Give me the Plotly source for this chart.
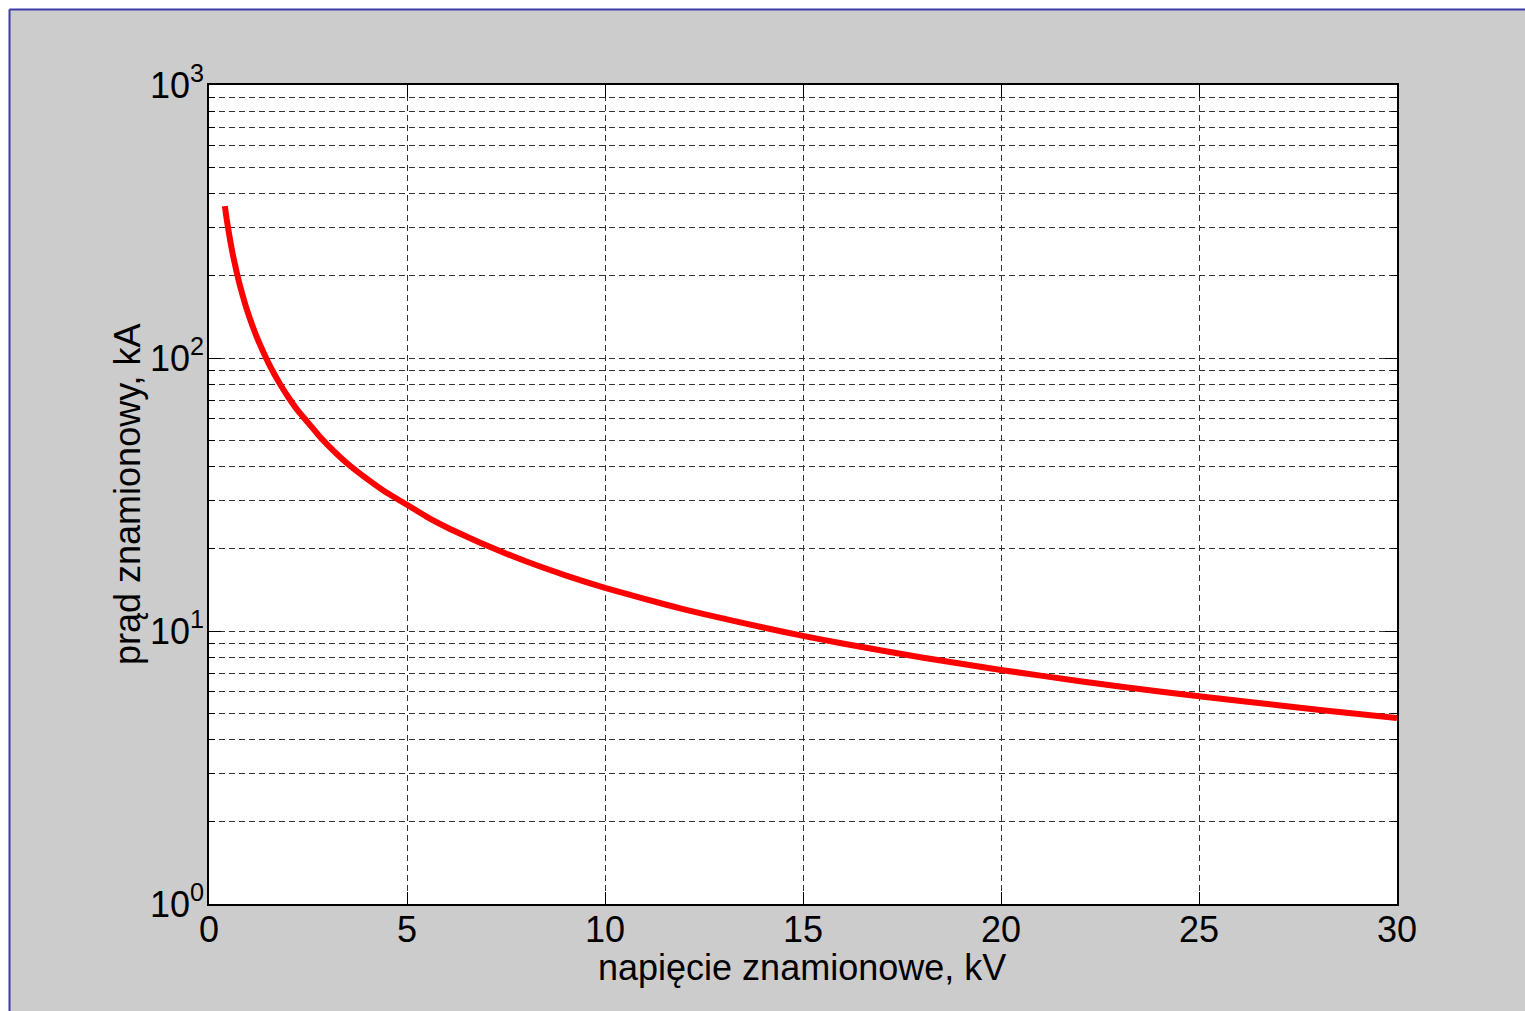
import plotly.graph_objects as go

# Data
voltage_kV = [0.4, 0.45, 0.5, 0.55, 0.6, 0.65, 0.7, 0.8, 0.9, 1.0, 1.1, 1.2, 1.3, 1.4, 1.5,
              1.6, 1.8, 2.0, 2.25, 2.5, 2.75, 3.0, 3.5, 4.0, 4.5, 5.0, 5.5, 6.0, 6.5,
              7.0, 8.0, 9.0, 10.0, 11.0, 12.0, 13.0, 14.0, 15.0, 16.0, 18.0,
              20.0, 22.0, 24.0, 26.0, 28.0, 30.0]
current_kA = [360, 320, 289, 262, 240, 222, 206, 180, 160, 144, 131, 120, 111, 103, 96,
              90, 80, 72, 64, 58, 52.5, 48, 41, 36, 32, 29, 26.2, 24, 22.2,
              20.6, 18, 16, 14.4, 13.1, 12, 11.1, 10.3, 9.6, 9.0, 8.0,
              7.2, 6.55, 6.0, 5.55, 5.15, 4.8]

x_ticks = [0, 5, 10, 15, 20, 25, 30]
y_major = [1, 10, 100, 1000]
y_major_text = ["10<sup>0</sup>", "10<sup>1</sup>", "10<sup>2</sup>", "10<sup>3</sup>"]
y_minor = [m * d for d in (1, 10, 100) for m in range(2, 10)]

x_title = "napięcie znamionowe, kV"
y_title = "prąd znamionowy, kA"

W, H = 1525, 1011
L, R, T, B = 209, 1397, 85, 904  # plot area pixel edges
pw, ph = R - L, B - T

def px(xp):
    return (xp - L) / pw

def py(yp):
    return (B - yp) / ph

GRID = "#333333"
FONT = "Liberation Sans, Arial, sans-serif"
FS = 36

fig = go.Figure()
fig.add_trace(go.Scatter(x=voltage_kV, y=current_kA, mode="lines",
                         line=dict(color="#ff0000", width=6, shape="spline", smoothing=0.6),
                         showlegend=False))

fig.update_layout(
    width=W, height=H,
    margin=dict(l=L, r=W - R, t=T, b=H - B, pad=0),
    paper_bgcolor="#cccccc",
    plot_bgcolor="#ffffff",
    font=dict(family=FONT, size=FS, color="#000000"),
    shapes=[
        dict(type="rect", xref="paper", yref="paper", x0=px(0), x1=px(W), y0=py(0), y1=py(9),
             fillcolor="#ffffff", line=dict(width=0), layer="below"),
        dict(type="rect", xref="paper", yref="paper", x0=px(0), x1=px(9), y0=py(0), y1=py(H),
             fillcolor="#ffffff", line=dict(width=0), layer="below"),
        dict(type="line", xref="paper", yref="paper", x0=px(9.5), x1=px(W), y0=py(9.5), y1=py(9.5),
             line=dict(color="#3c3ca8", width=2), layer="below"),
        dict(type="line", xref="paper", yref="paper", x0=px(9.5), x1=px(9.5), y0=py(9.5), y1=py(H),
             line=dict(color="#3c3ca8", width=2), layer="below"),
    ],
    annotations=[
        dict(text=x_title, xref="paper", yref="paper", x=px(802), y=py(967),
             xanchor="center", yanchor="middle", showarrow=False, font=dict(size=FS)),
        dict(text=y_title, xref="paper", yref="paper", x=px(127), y=py(494),
             xanchor="center", yanchor="middle", textangle=-90, showarrow=False,
             font=dict(size=FS)),
    ],
)

fig.update_xaxes(
    range=[0, 30], tickvals=x_ticks, ticktext=[str(v) for v in x_ticks],
    ticks="inside", ticklen=12, tickcolor="#000000", tickwidth=1,
    showline=True, linecolor="#000000", linewidth=1.5, mirror="ticks",
    showgrid=True, gridcolor=GRID, gridwidth=1, griddash="6px,4px",
    zeroline=False, ticklabelstandoff=-7,
    tickfont=dict(size=FS),
)
fig.update_yaxes(
    type="log", range=[0, 3], tickvals=y_major, ticktext=y_major_text,
    ticks="inside", ticklen=12, tickcolor="#000000", tickwidth=1,
    showline=True, linecolor="#000000", linewidth=1.5, mirror="ticks",
    showgrid=True, gridcolor=GRID, gridwidth=1, griddash="6px,4px",
    zeroline=False, ticklabelstandoff=-4,
    minor=dict(tickvals=y_minor, ticks="inside", ticklen=6, tickcolor="#000000",
               showgrid=True, gridcolor=GRID, gridwidth=1, griddash="6px,4px"),
    tickfont=dict(size=FS),
)

fig.write_html("out.html")
